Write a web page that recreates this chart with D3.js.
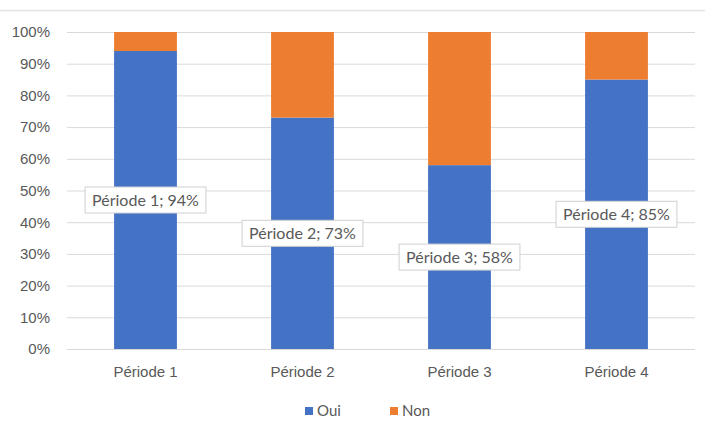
<!DOCTYPE html>
<html><head><meta charset="utf-8">
<script src="https://cdn.jsdelivr.net/npm/d3@7"></script>
<style>body{margin:0;background:#fff}svg{display:block;font-family:Lato,"Open Sans",sans-serif}</style>
</head><body><svg id="c" width="705" height="432"></svg>
<script>
const categories = ["Période 1","Période 2","Période 3","Période 4"];
const oui = [0.94,0.73,0.58,0.85];
const non = [0.06,0.27,0.42,0.15];
const yTicks = [0,0.1,0.2,0.3,0.4,0.5,0.6,0.7,0.8,0.9,1.0];
const seriesNames = ["Oui","Non"];
const colors = ["#4472C4","#ED7D31"];
const FS = 15;

const svg = d3.select("#c");
svg.append("line").attr("x1",0).attr("x2",705).attr("y1",10.5).attr("y2",10.5).attr("stroke","#e3e3e3").attr("stroke-width",1.5);

const x = d3.scaleBand().domain(categories).range([67,695]).paddingInner(0.6).paddingOuter(0.3);
const y = d3.scaleLinear().domain([0,1]).range([349,32]);
const fmt = d3.format(".0%");

const yAxis = d3.axisLeft(y).tickValues(yTicks).tickFormat(fmt).tickSize(-628).tickPadding(17);
const gy = svg.append("g").attr("transform","translate(67,0)").call(yAxis);
gy.select(".domain").remove();
gy.selectAll(".tick line").attr("stroke","#d9d9d9").attr("stroke-width",1);
gy.selectAll(".tick text").attr("fill","#595959").attr("font-size",FS);

const stacked = d3.stack().keys([0,1]).value((d,k)=> k===0? d.o : d.n)(categories.map((c,i)=>({c,o:oui[i],n:non[i]})));
stacked.forEach((layer,k)=>{
  svg.append("g").selectAll("rect").data(layer).join("rect")
    .attr("x",d=>x(d.data.c)).attr("width",x.bandwidth())
    .attr("y",d=>y(d[1])).attr("height",d=>y(d[0])-y(d[1]))
    .attr("fill",colors[k]);
});

const gx = svg.append("g").attr("transform","translate(0,349)")
  .call(d3.axisBottom(x).tickSize(0).tickPadding(17));
gx.select(".domain").remove();
svg.append("line").attr("x1",67).attr("x2",695).attr("y1",349.5).attr("y2",349.5).attr("stroke","#d9d9d9");
gx.selectAll(".tick text").attr("fill","#595959").attr("font-size",FS);

// data labels
const lab = svg.append("g");
categories.forEach((c,i)=>{
  const cx = x(c)+x.bandwidth()/2, cy = y(oui[i]/2);
  const t = lab.append("text").attr("x",cx).attr("y",cy).attr("text-anchor","middle").attr("dy","0.35em")
    .attr("font-size",16).attr("fill","#595959").text(c+"; "+fmt(oui[i]));
  const w = t.node().getComputedTextLength()+14;
  lab.insert("rect","text").attr("x",cx-w/2).attr("y",cy-13).attr("width",w).attr("height",26)
    .attr("fill","#fff").attr("stroke","#d0d0d0");
});
lab.selectAll("text").raise();

// legend
const leg = svg.append("g");
const lx = [305,390];
seriesNames.forEach((s,i)=>{
  leg.append("rect").attr("x",lx[i]).attr("y",407).attr("width",8).attr("height",8).attr("fill",colors[i]);
  leg.append("text").attr("x",lx[i]+12).attr("y",411).attr("dy","0.35em").attr("font-size",FS).attr("fill","#595959").text(s);
});
</script></body></html>
